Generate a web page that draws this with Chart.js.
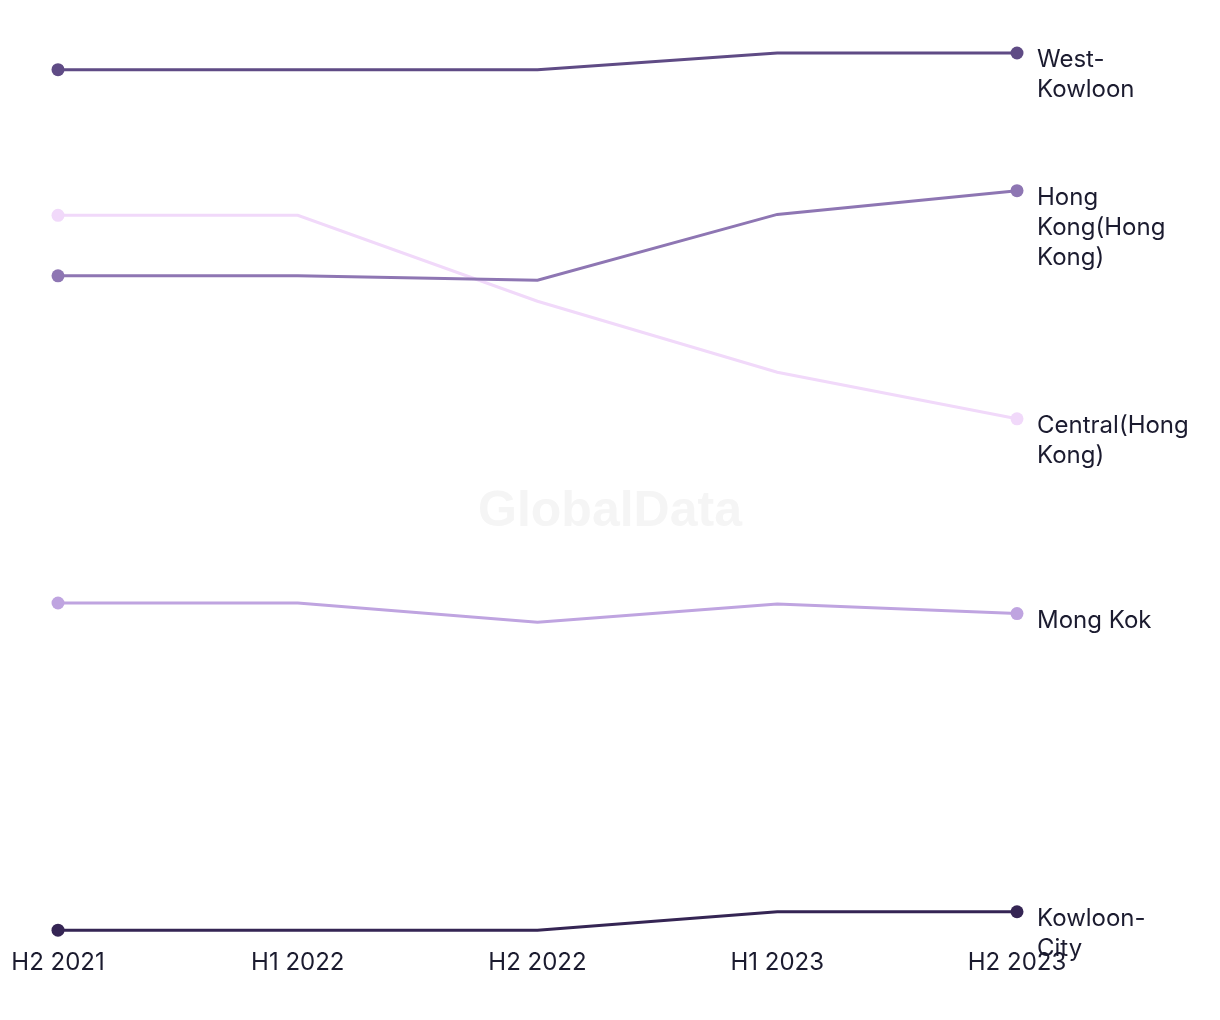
<!DOCTYPE html>
<html>
<head>
<meta charset="utf-8">
<script src="https://cdn.jsdelivr.net/npm/chart.js@4.4.1/dist/chart.umd.min.js"></script>
<style>
  html, body { margin: 0; padding: 0; background: #fff; }
  #wrap { width: 1220px; height: 1020px; position: relative; }
</style>
</head>
<body>
<div id="wrap"><canvas id="chart"></canvas></div>
<script>
// Periods on the x axis
const periods = ['H2 2021', 'H1 2022', 'H2 2022', 'H1 2023', 'H2 2023'];

// Series values (relative scale 0-100)
const westKowloon = [98.1, 98.1, 98.1, 100, 100];
const hongKong = [74.6, 74.6, 74.1, 81.6, 84.3];
const central = [81.5, 81.5, 71.7, 63.6, 58.3];
const mongKok = [37.3, 37.3, 35.1, 37.2, 36.1];
const kowloonCity = [0, 0, 0, 2.1, 2.1];

const names = ['West-Kowloon', 'Hong Kong(Hong Kong)', 'Central(Hong Kong)', 'Mong Kok', 'Kowloon-City'];
const colors = ['#5f4b85', '#8e76b3', '#f1d9fa', '#bfa4e0', '#352554'];
const values = [westKowloon, hongKong, central, mongKok, kowloonCity];

const FONT = 'Inter, "Noto Sans", sans-serif';
const TEXT = '#1b1b2f';

// split a name into lines no wider than maxW; always break after a hyphen
function wrap(ctx, text, maxW) {
    const lines = [];
    text.replace(/-/g, '-\n').split('\n').forEach(chunk => {
        let cur = '';
        chunk.split(' ').forEach(w => {
            const test = cur ? cur + ' ' + w : w;
            if (cur && ctx.measureText(test).width > maxW) {
                lines.push(cur);
                cur = w;
            } else {
                cur = test;
            }
        });
        if (cur) lines.push(cur);
    });
    return lines;
}

const endLabels = {
    id: 'endLabels',
    afterDatasetsDraw(chart) {
        const ctx = chart.ctx;
        ctx.save();
        ctx.font = '24px ' + FONT;
        ctx.fillStyle = TEXT;
        ctx.textBaseline = 'middle';
        ctx.textAlign = 'left';
        chart.data.datasets.forEach((ds, i) => {
            const pts = chart.getDatasetMeta(i).data;
            const last = pts[pts.length - 1];
            wrap(ctx, ds.label, 160).forEach((ln, j) => {
                ctx.fillText(ln, last.x + 20, last.y + 7 + j * 30);
            });
        });
        ctx.restore();
    }
};

const watermark = {
    id: 'watermark',
    beforeDatasetsDraw(chart) {
        const ctx = chart.ctx;
        ctx.save();
        ctx.font = 'bold 50px "Liberation Sans", Arial, sans-serif';
        ctx.fillStyle = '#f5f5f5';
        ctx.textAlign = 'center';
        ctx.textBaseline = 'middle';
        ctx.fillText('GlobalData', 610, 512);
        ctx.restore();
    }
};

new Chart(document.getElementById('chart'), {
    type: 'line',
    data: {
        labels: periods,
        datasets: values.map((v, i) => ({
            label: names[i],
            data: v,
            borderColor: colors[i],
            backgroundColor: colors[i],
            borderWidth: 3,
            tension: 0,
            clip: false,
            pointRadius: c => (c.dataIndex === 0 || c.dataIndex === periods.length - 1) ? 6.5 : 0,
            pointHoverRadius: 0,
            pointBorderWidth: 0
        }))
    },
    options: {
        responsive: true,
        maintainAspectRatio: false,
        animation: false,
        layout: { padding: { left: 0, right: 203, top: 53, bottom: 25 } },
        plugins: {
            legend: { display: false },
            tooltip: { enabled: false }
        },
        scales: {
            x: {
                grid: { display: false, drawTicks: false },
                border: { display: false },
                afterFit: scale => {
                    scale.paddingLeft = 58;
                    scale.paddingRight = 0;
                },
                ticks: {
                    color: TEXT,
                    font: { family: FONT, size: 24 },
                    padding: 18,
                    maxRotation: 0,
                    autoSkip: false
                }
            },
            y: {
                display: false,
                min: 0,
                max: 100
            }
        }
    },
    plugins: [watermark, endLabels]
});
</script>
</body>
</html>
